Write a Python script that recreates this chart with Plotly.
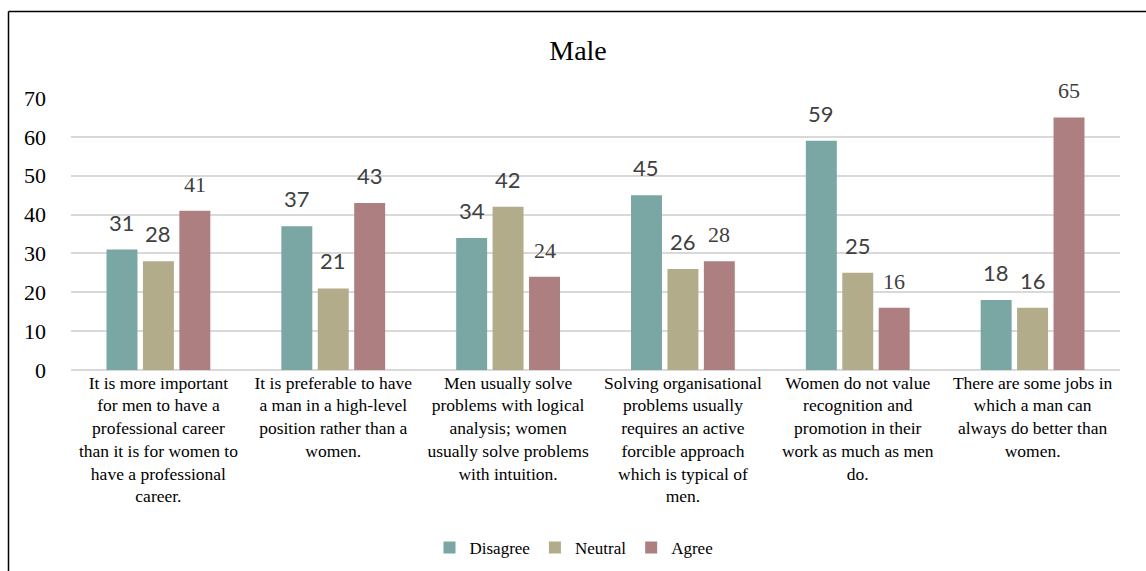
import plotly.graph_objects as go

# Survey statements (category axis), wrapped as they are laid out under each group
statements = [
    "It is more important<br>for men to have a<br>professional career<br>than it is for women to<br>have a professional<br>career.",
    "It is preferable to have<br>a man in a high-level<br>position rather than a<br>women.",
    "Men usually solve<br>problems with logical<br>analysis; women<br>usually solve problems<br>with intuition.",
    "Solving organisational<br>problems usually<br>requires an active<br>forcible approach<br>which is typical of<br>men.",
    "Women do not value<br>recognition and<br>promotion in their<br>work as much as men<br>do.",
    "There are some jobs in<br>which a man can<br>always do better than<br>women.",
]

series_names = ["Disagree", "Neutral", "Agree"]
disagree = [31, 37, 34, 45, 59, 18]
neutral = [28, 21, 42, 26, 25, 16]
agree = [41, 43, 24, 28, 16, 65]

y_ticks = [0, 10, 20, 30, 40, 50, 60, 70]

colors = ["#7AA6A3", "#B2AC8B", "#AE7F80"]
SERIF = "Liberation Serif, Times New Roman, serif"
SANS = "Lato, Carlito, Calibri, sans-serif"

# plot-area geometry (pixels)
W, H = 1146, 571
L, R, T, B = 71, 26, 98, 201
plot_w = W - L - R
plot_h = H - T - B

BARGAP = 0.375
BARGROUPGAP = 0.15

fig = go.Figure()
all_values = [disagree, neutral, agree]
for name, vals, col in zip(series_names, all_values, colors):
    fig.add_trace(go.Bar(
        name=name,
        x=list(range(len(statements))),
        y=vals,
        marker=dict(color=col, line=dict(width=0)),
        hoverinfo="y",
    ))

# value labels above each bar, offset within its group
slot = (1 - BARGAP) / 3
serif_labels = {(2, 0), (2, 2), (2, 3), (2, 4), (2, 5)}
for j, vals in enumerate(all_values):
    for i, v in enumerate(vals):
        fam = SERIF if (j, i) in serif_labels else SANS
        fig.add_annotation(
            x=i + (j - 1) * slot, y=v, xref="x", yref="y",
            text=str(v), showarrow=False, yanchor="bottom",
            yshift=12,
            font=dict(family=fam, size=22, color="#404040"),
        )

# chart-area frame (left and top edges are visible in the window)
def px_to_paper_x(px):
    return (px - L) / plot_w

def px_to_paper_y(py):
    return (H - B - py) / plot_h

frame = dict(color="#000000", width=1.5)
fig.add_shape(type="line", xref="paper", yref="paper",
              x0=px_to_paper_x(8.5), x1=px_to_paper_x(1160),
              y0=px_to_paper_y(11.5), y1=px_to_paper_y(11.5), line=frame)
fig.add_shape(type="line", xref="paper", yref="paper",
              x0=px_to_paper_x(8.5), x1=px_to_paper_x(8.5),
              y0=px_to_paper_y(11.5), y1=px_to_paper_y(590), line=frame)

fig.update_layout(
    width=W, height=H,
    margin=dict(l=L, r=R, t=T, b=B, autoexpand=False),
    paper_bgcolor="white", plot_bgcolor="white",
    barmode="group", bargap=BARGAP, bargroupgap=BARGROUPGAP,
    title=dict(text="Male", x=578 / W, xref="container", xanchor="center",
               y=1 - 50 / H, yref="container", yanchor="middle",
               font=dict(family=SERIF, size=28, color="#000000")),
    font=dict(family=SERIF, color="#000000"),
    showlegend=True,
    legend=dict(orientation="h", x=0.5 + (574 - (L + plot_w / 2)) / plot_w,
                xanchor="center", y=px_to_paper_y(548), yanchor="middle",
                font=dict(family=SERIF, size=17, color="#000000"),
                itemwidth=30, traceorder="normal", bgcolor="rgba(0,0,0,0)"),
    xaxis=dict(
        tickmode="array", tickvals=list(range(len(statements))), ticktext=statements,
        range=[-0.5, len(statements) - 0.5],
        showgrid=False, zeroline=False, showline=False, ticks="",
        tickfont=dict(family=SERIF, size=17.5, color="#000000"),
        tickangle=0,
    ),
    yaxis=dict(
        range=[0, 70], tickvals=y_ticks,
        showgrid=True, gridcolor="#D9D9D9", gridwidth=1.5,
        zeroline=True, zerolinecolor="#D9D9D9", zerolinewidth=1.5,
        showline=False, ticks="",
        tickfont=dict(family=SERIF, size=22, color="#000000"),
        ticklabelstandoff=24,
    ),
)

fig.write_html("out.html")
